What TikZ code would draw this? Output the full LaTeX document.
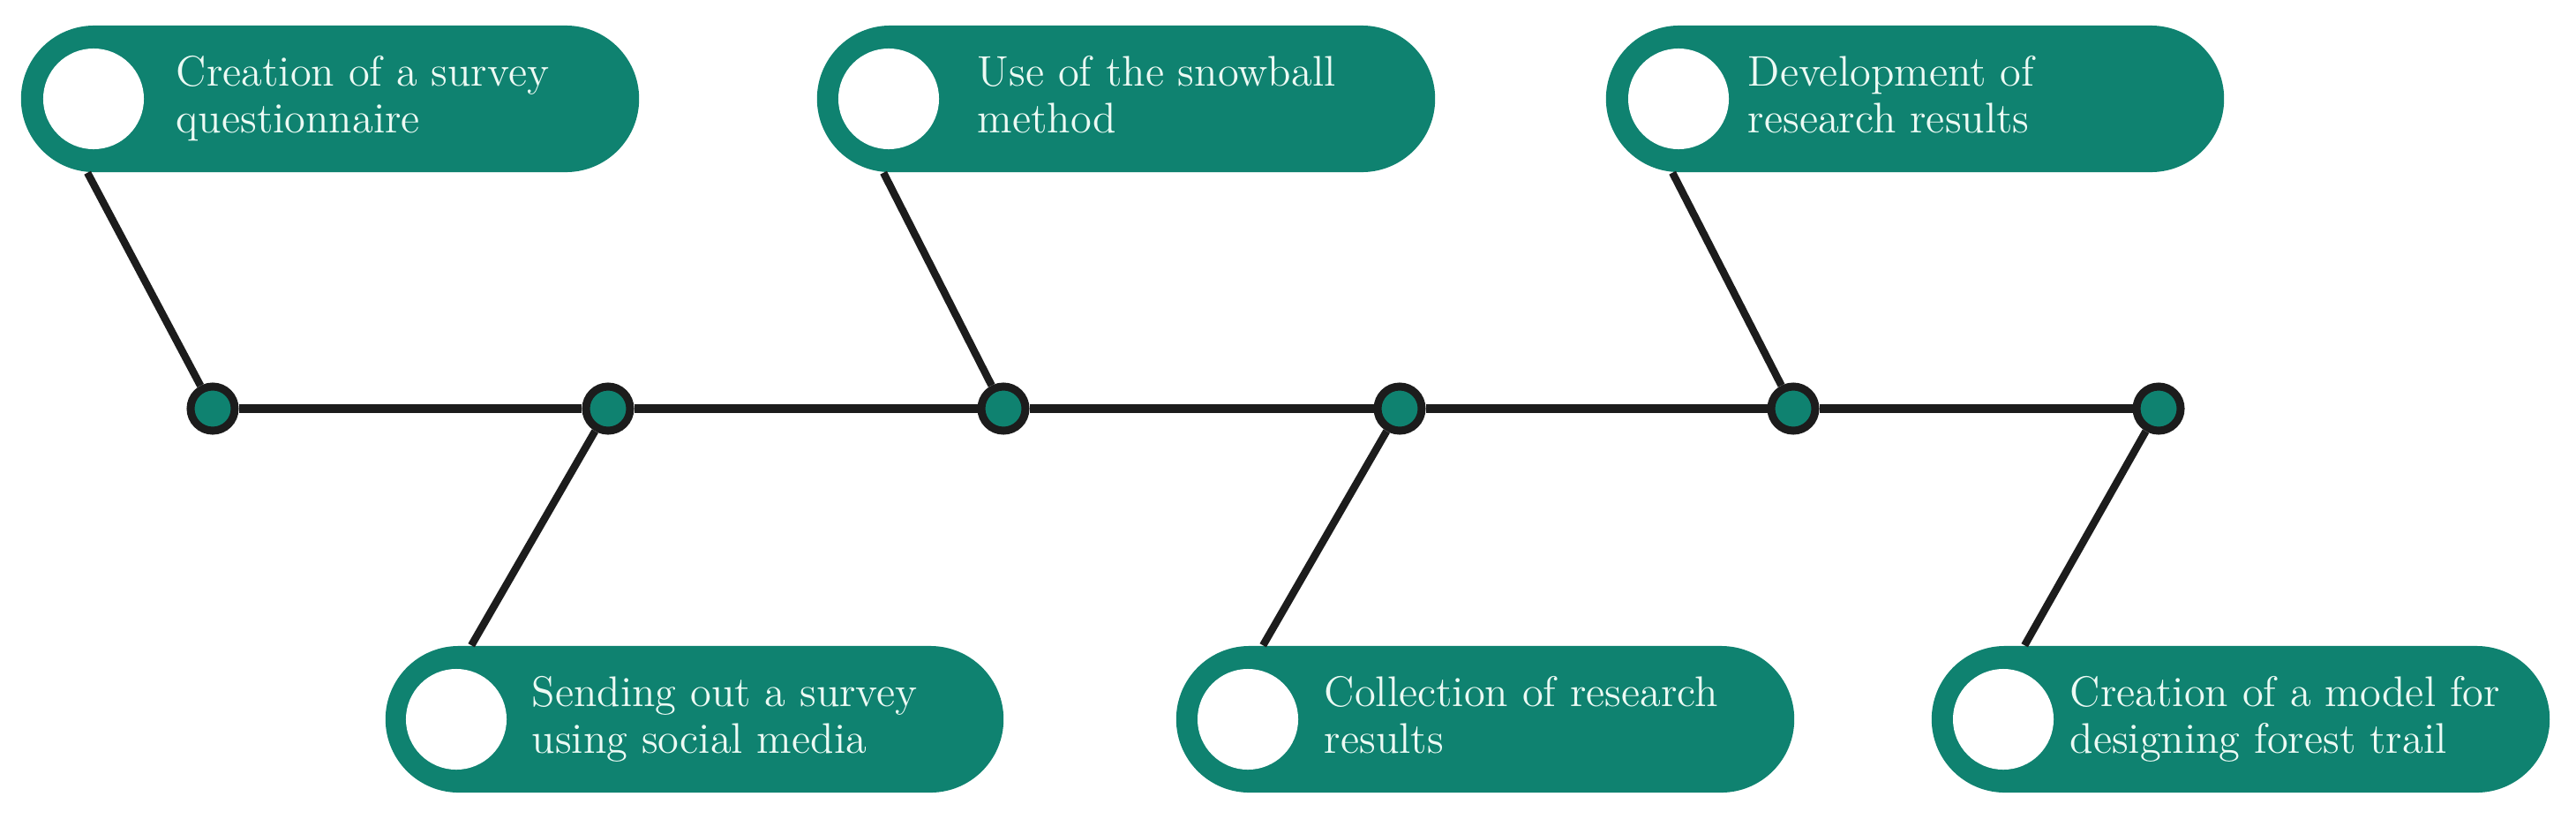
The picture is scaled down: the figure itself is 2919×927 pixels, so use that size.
\documentclass[tikz,border=0pt]{standalone}
\usepackage{tikz}

\definecolor{teal}{RGB}{15,130,112}
\definecolor{linegray}{RGB}{28,28,28}
\definecolor{mint}{RGB}{236,250,244}

\tikzset{
  pill/.style={fill=teal, rounded corners=0.83cm, minimum width=7cm,
    minimum height=1.66cm, inner sep=0pt},
  hole/.style={circle, fill=white, minimum size=1.14cm, inner sep=0pt},
  dot/.style={circle, fill=teal, draw=linegray, line width=0.09cm,
    minimum size=0.5cm, inner sep=0pt},
  label/.style={anchor=north west, align=left, inner sep=0pt, text=mint,
    font=\fontsize{13.8pt}{15.1pt}\selectfont},
  link/.style={draw=linegray, line width=0.085cm},
  spine/.style={draw=linegray, line width=0.095cm}
}

\begin{document}
\begin{tikzpicture}[x=0.01cm, y=-0.01cm]

    \useasboundingbox (0,0) rectangle (2919,927);

    % pills
    \node[pill] (s1) at (374, 112) {};
    \node[pill] (s2) at (787, 815) {};
    \node[pill] (s3) at (1276, 112) {};
    \node[pill] (s4) at (1683, 815) {};
    \node[pill] (s5) at (2170, 112) {};
    \node[pill] (s6) at (2539, 815) {};

    \node[hole] (h1) at (106, 112) {};
    \node[hole] (h2) at (517, 815) {};
    \node[hole] (h3) at (1007, 112) {};
    \node[hole] (h4) at (1414, 815) {};
    \node[hole] (h5) at (1902, 112) {};
    \node[hole] (h6) at (2270, 815) {};

    \node[label] (t1) at (199, 63) {Creation of a survey\\questionnaire};
    \node[label] (t2) at (602, 766) {Sending out a survey\\using social media};
    \node[label] (t3) at (1107, 63) {Use of the snowball\\method};
    \node[label] (t4) at (1500, 766) {Collection of research\\results};
    \node[label] (t5) at (1980, 63) {Development of\\research results};
    \node[label] (t6) at (2345, 766) {Creation of a model for\\designing forest trail};

    % time line
    \node[dot] (d1) at (241, 463) {};
    \node[dot] (d2) at (689, 463) {};
    \node[dot] (d3) at (1137, 463) {};
    \node[dot] (d4) at (1586, 463) {};
    \node[dot] (d5) at (2032, 463) {};
    \node[dot] (d6) at (2446, 463) {};

    \draw[spine] (d1) -- (d2);
    \draw[spine] (d2) -- (d3);
    \draw[spine] (d3) -- (d4);
    \draw[spine] (d4) -- (d5);
    \draw[spine] (d5) -- (d6);

    \draw[link] ([xshift=0.76cm]s1.south west) -- (d1);
    \draw[link] ([xshift=0.76cm]s3.south west) -- (d3);
    \draw[link] ([xshift=0.76cm]s5.south west) -- (d5);
    \draw[link] (d2) -- ([xshift=0.98cm]s2.north west);
    \draw[link] (d4) -- ([xshift=0.99cm]s4.north west);
    \draw[link] (d6) -- ([xshift=1.06cm]s6.north west);

\end{tikzpicture}
\end{document}
